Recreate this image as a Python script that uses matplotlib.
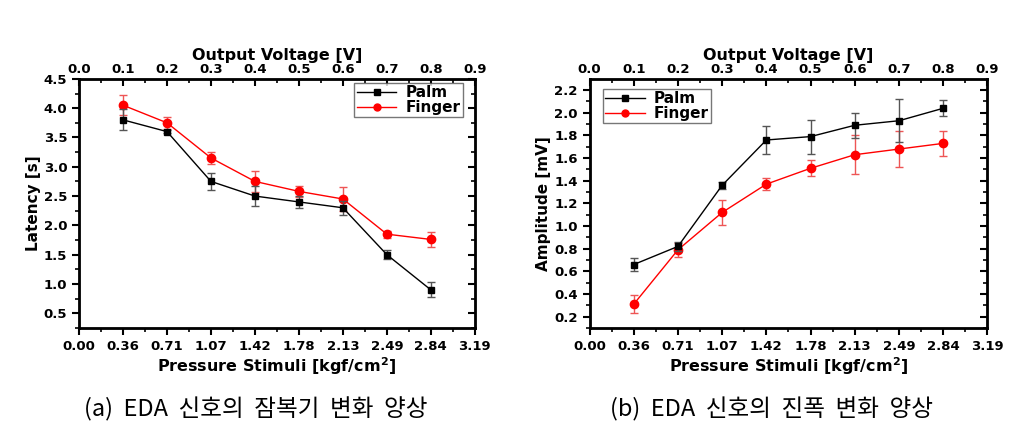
import matplotlib
matplotlib.use("Agg")
import matplotlib.pyplot as plt
from matplotlib.lines import Line2D

voltage = [0.1, 0.2, 0.3, 0.4, 0.5, 0.6, 0.7, 0.8]
voltage_ticks = [0.0, 0.1, 0.2, 0.3, 0.4, 0.5, 0.6, 0.7, 0.8, 0.9]
pressure_labels = ["0.00", "0.36", "0.71", "1.07", "1.42", "1.78", "2.13", "2.49", "2.84", "3.19"]

latency_palm = [3.80, 3.60, 2.75, 2.50, 2.40, 2.30, 1.50, 0.90]
latency_palm_err = [0.18, 0.03, 0.14, 0.17, 0.10, 0.12, 0.08, 0.13]
latency_finger = [4.05, 3.75, 3.15, 2.75, 2.58, 2.45, 1.85, 1.76]
latency_finger_err = [0.17, 0.10, 0.10, 0.18, 0.09, 0.20, 0.06, 0.13]

amp_palm = [0.66, 0.82, 1.36, 1.76, 1.79, 1.89, 1.93, 2.04]
amp_palm_err = [0.06, 0.04, 0.03, 0.12, 0.15, 0.11, 0.19, 0.07]
amp_finger = [0.31, 0.79, 1.12, 1.37, 1.51, 1.63, 1.68, 1.73]
amp_finger_err = [0.08, 0.06, 0.11, 0.05, 0.07, 0.17, 0.16, 0.11]

BOLD = dict(fontweight="bold", family="DejaVu Sans")


def draw_panel(ax, palm, palm_err, finger, finger_err, ylim, yticks, ylabel, legend_anchor):
    ax.errorbar(voltage, palm, yerr=palm_err, color="black", marker="s", markersize=5,
                linewidth=1, capsize=3, elinewidth=1, ecolor="#555555", zorder=3)
    ax.errorbar(voltage, finger, yerr=finger_err, color="red", marker="o", markersize=6,
                linewidth=1, capsize=3, elinewidth=1, ecolor="#ee5555", zorder=2)
    ax.set_xlim(0, 0.9)
    ax.set_ylim(*ylim)
    ax.set_xticks(voltage_ticks)
    ax.set_xticks([v + 0.05 for v in voltage_ticks[:-1]], minor=True)
    ax.set_xticklabels(pressure_labels, fontsize=9.5, **BOLD)
    ax.set_yticks(yticks)
    step = yticks[1] - yticks[0]
    ax.set_yticks([t + step / 2 for t in yticks[:-1]] + [yticks[0] - step / 2], minor=True)
    ax.set_yticklabels([f"{t:.1f}" for t in yticks], fontsize=9.5, **BOLD)
    ax.tick_params(which="major", direction="out", length=5, width=1.5)
    ax.tick_params(which="minor", direction="out", length=3, width=1.2)
    ax.set_xlabel("Pressure Stimuli [kgf/cm$^\\mathbf{2}$]", fontsize=11.5, labelpad=2, **BOLD)
    ax.set_ylabel(ylabel, fontsize=11, labelpad=2, **BOLD)
    for s in ax.spines.values():
        s.set_linewidth(2)

    top = ax.twiny()
    top.set_xlim(0, 0.9)
    top.set_xticks(voltage_ticks)
    top.set_xticks([v + 0.05 for v in voltage_ticks[:-1]], minor=True)
    top.set_xticklabels([f"{v:.1f}" for v in voltage_ticks], fontsize=9.5, **BOLD)
    top.tick_params(which="major", direction="in", length=5, width=1.5, pad=2)
    top.tick_params(which="minor", direction="in", length=3, width=1.2)
    top.set_xlabel("Output Voltage [V]", fontsize=11.5, labelpad=2, **BOLD)

    right = ax.twinx()
    right.set_ylim(*ylim)
    right.set_yticks(ax.get_yticks())
    right.set_yticks(ax.get_yticks(minor=True), minor=True)
    right.set_yticklabels([])
    right.tick_params(which="major", direction="in", length=5, width=1.5)
    right.tick_params(which="minor", direction="in", length=3, width=1.2)

    handles = [
        Line2D([], [], color="black", marker="s", markersize=4, linewidth=1, label="Palm"),
        Line2D([], [], color="red", marker="o", markersize=5, linewidth=1, label="Finger"),
    ]
    loc, anchor = legend_anchor
    leg = right.legend(handles=handles, loc=loc, bbox_to_anchor=anchor, frameon=True,
                       fancybox=False, borderpad=0.15, handlelength=2.6, handletextpad=0.6,
                       labelspacing=0.0, borderaxespad=0.0,
                       prop=dict(weight="bold", size=11, family="DejaVu Sans"))
    leg.get_frame().set_edgecolor("#555555")
    leg.get_frame().set_linewidth(1)


fig = plt.figure(figsize=(10.2, 4.48), dpi=100)
ax1 = fig.add_axes([0.0775, 0.268, 0.388, 0.556])
ax2 = fig.add_axes([0.578, 0.268, 0.390, 0.556])

draw_panel(ax1, latency_palm, latency_palm_err, latency_finger, latency_finger_err,
           (0.3, 4.5), [0.5, 1.0, 1.5, 2.0, 2.5, 3.0, 3.5, 4.0, 4.5], "Latency [s]",
           ("upper right", (0.97, 0.985)))
draw_panel(ax2, amp_palm, amp_palm_err, amp_finger, amp_finger_err,
           (0.1, 2.3), [0.2, 0.4, 0.6, 0.8, 1.0, 1.2, 1.4, 1.6, 1.8, 2.0, 2.2], "Amplitude [mV]",
           ("upper left", (0.033, 0.96)))

cap_font = ["Noto Sans CJK KR", "DejaVu Sans"]
fig.text(0.251, 0.087, "(a)  EDA  신호의  잠복기  변화  양상", ha="center", va="center", fontsize=17, family=cap_font)
fig.text(0.756, 0.087, "(b)  EDA  신호의  진폭  변화  양상", ha="center", va="center", fontsize=17, family=cap_font)

fig.savefig("out.png", dpi=100)
